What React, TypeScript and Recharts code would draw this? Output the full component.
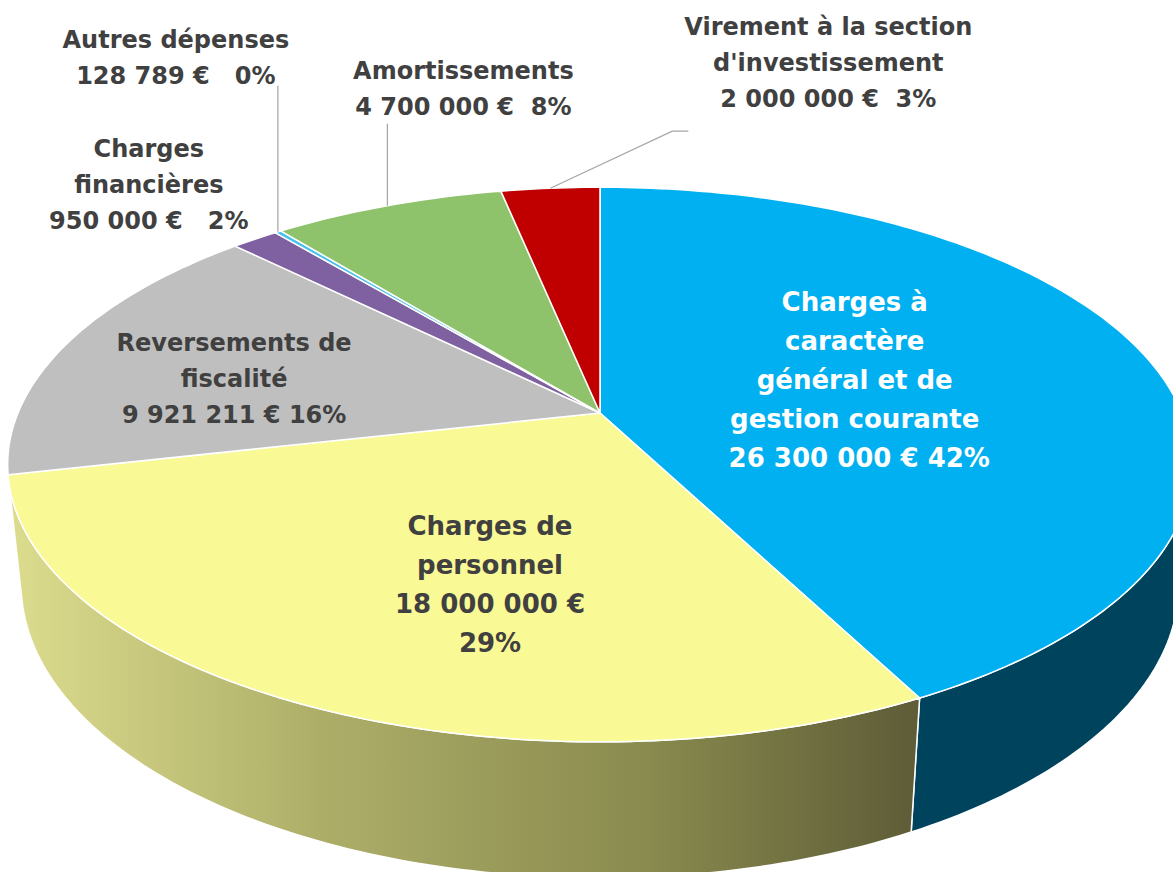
import { Pie, PieChart } from "recharts";

const CATEGORIES = [
  "Charges à\ncaractère\ngénéral et de\ngestion courante",
  "Charges de\npersonnel",
  "Reversements de\nfiscalité",
  "Charges\nfinancières",
  "Autres dépenses",
  "Amortissements",
  "Virement à la section\nd'investissement",
];
const AMOUNTS = [26300000, 18000000, 9921211, 950000, 128789, 4700000, 2000000];

const TOP_COLORS = ["#00B0F0", "#F9F996", "#BFBFBF", "#7F60A0", "#4BC0EC", "#8EC36C", "#C00000"];
const SIDE_COLORS = ["#00435D", "url(#yellowSide)", "#8F8F8F", "#5F4878", "#2F8FB0", "#6A924F", "#900000"];

const data = CATEGORIES.map((name, i) => ({ name, value: AMOUNTS[i] }));

// perspective of the tilted disc (radius 1 in disc units)
const TILT_SIN = 0.46;
const TILT_COS = 0.888;
const DIST = 4.78;
const DEPTH = 0.235;

// where each label sits: base point on the disc at radius r, then shifted
const LABELS = [
  { r: 0.5, dx: -22, dy: -2, size: 26, lh: 39, color: "#fff", gap: 1, split: false, lead: true, leader: [] as number[][] },
  { r: 0.6, dx: 54, dy: 9, size: 26, lh: 39, color: "#404040", gap: 1, split: true, lead: false, leader: [] },
  { r: 0.65, dx: -14, dy: 12, size: 24, lh: 36, color: "#404040", gap: 1, split: false, lead: false, leader: [] },
  { r: 1, dx: -106, dy: -55, size: 24, lh: 36, color: "#404040", gap: 3, split: false, lead: false, leader: [] },
  { r: 1, dx: -102, dy: -174, size: 24, lh: 36, color: "#404040", gap: 3, split: false, lead: false, leader: [[0, -146]] },
  { r: 1, dx: 76, dy: -117, size: 24, lh: 36, color: "#404040", gap: 2, split: false, lead: false, leader: [[0, -82]] },
  { r: 1, dx: 278, dy: -126, size: 24, lh: 36, color: "#404040", gap: 2, split: false, lead: false, leader: [[122, -57], [138, -57]] },
];

const euro = (n: number) => String(n).replace(/\B(?=(\d{3})+(?!\d))/g, " ") + " €";

function project(cx: number, cy: number, R: number, deg: number, r: number, depth: number) {
  const t = (deg * Math.PI) / 180;
  const u = r * Math.cos(t);
  const v = r * Math.sin(t);
  const y = v * TILT_SIN - depth * TILT_COS;
  const z = DIST + v * TILT_COS + depth * TILT_SIN;
  return { x: cx + (R * DIST * u) / z, y: cy - (R * DIST * y) / z };
}

function arc(cx: number, cy: number, R: number, a0: number, a1: number, depth: number) {
  const n = Math.max(2, Math.ceil(Math.abs(a1 - a0)));
  const pts = [];
  for (let k = 0; k <= n; k++) {
    const p = project(cx, cy, R, a0 + ((a1 - a0) * k) / n, 1, depth);
    pts.push(`${p.x.toFixed(2)},${p.y.toFixed(2)}`);
  }
  return pts;
}

const renderWall = (p: any) => {
  const { cx, cy, outerRadius: R, startAngle, endAngle, index } = p;
  const hi = Math.max(startAngle, endAngle);
  const lo = Math.min(startAngle, endAngle);
  const edge = (Math.asin(1 / (DIST * TILT_COS)) * 180) / Math.PI;
  const paths = [];
  for (let k = -2; k <= 1; k++) {
    const a = Math.max(lo, 180 + edge + 360 * k);
    const b = Math.min(hi, 360 - edge + 360 * k);
    if (b > a) {
      const pts = [...arc(cx, cy, R, a, b, 0), ...arc(cx, cy, R, b, a, DEPTH)];
      paths.push(
        <path key={k} d={`M${pts.join("L")}Z`} fill={SIDE_COLORS[index]} stroke="#fff" strokeWidth={1.5} strokeLinejoin="round" />
      );
    }
  }
  return <g key={`w${index}`}>{paths}</g>;
};

const renderTop = (p: any) => {
  const { cx, cy, outerRadius: R, startAngle, endAngle, index } = p;
  const pts = arc(cx, cy, R, startAngle, endAngle, 0);
  return (
    <path key={`t${index}`} d={`M${cx},${cy}L${pts.join("L")}Z`} fill={TOP_COLORS[index]} stroke="#fff" strokeWidth={1.5} strokeLinejoin="round" />
  );
};

const renderText = (p: any) => {
  const { cx, cy, outerRadius: R, startAngle, endAngle, index, percent } = p;
  const cfg = LABELS[index];
  const mid = (startAngle + endAngle) / 2;
  const base = project(cx, cy, R, mid, cfg.r, 0);
  const pct = `${Math.round(percent * 100)}%`;
  const lines = CATEGORIES[index].split("\n");
  if (cfg.split) lines.push(euro(AMOUNTS[index]), pct);
  else lines.push((cfg.lead ? " " : "") + euro(AMOUNTS[index]) + " ".repeat(cfg.gap) + pct);
  const bx = base.x + cfg.dx;
  const by = base.y + cfg.dy;
  const leader = cfg.leader.length
    ? [[0, 0], ...cfg.leader].map(([x, y]) => `${base.x + x},${base.y + y}`).join(" ")
    : null;
  return (
    <g key={`l${index}`}>
      {leader && <polyline points={leader} fill="none" stroke="#A6A6A6" strokeWidth={1.25} />}
      <text
        textAnchor="middle"
        fontFamily="DejaVu Sans"
        fontWeight="bold"
        fontSize={cfg.size}
        fill={cfg.color}
        style={{ whiteSpace: "pre" }}
      >
        {lines.map((line, i) => (
          <tspan key={i} x={bx} y={by + (i - (lines.length - 1) / 2) * cfg.lh + 0.35 * cfg.size}>
            {line}
          </tspan>
        ))}
      </text>
    </g>
  );
};

const pieProps = {
  data,
  dataKey: "value",
  nameKey: "name",
  cx: 600,
  cy: 413,
  outerRadius: 582,
  startAngle: 90,
  endAngle: -270,
  fill: "none",
  stroke: "none",
  labelLine: false,
  isAnimationActive: false,
};

export default function App() {
  return (
    <div style={{ width: 1173, height: 872, background: "#fff", overflow: "hidden" }}>
      <style>{"body{margin:0}"}</style>
      <PieChart width={1173} height={872} margin={{ top: 0, right: 0, bottom: 0, left: 0 }}>
        <defs>
          <linearGradient id="yellowSide" gradientUnits="userSpaceOnUse" x1={12} y1={0} x2={1173} y2={0}>
            <stop offset="0" stopColor="#DCDC8E" />
            <stop offset="0.27" stopColor="#ACAE68" />
            <stop offset="0.55" stopColor="#898A4E" />
            <stop offset="0.77" stopColor="#5F5E38" />
            <stop offset="1" stopColor="#4F4E2E" />
          </linearGradient>
        </defs>
        <Pie {...pieProps} label={renderWall} />
        <Pie {...pieProps} label={renderTop} />
        <Pie {...pieProps} label={renderText} />
      </PieChart>
    </div>
  );
}
